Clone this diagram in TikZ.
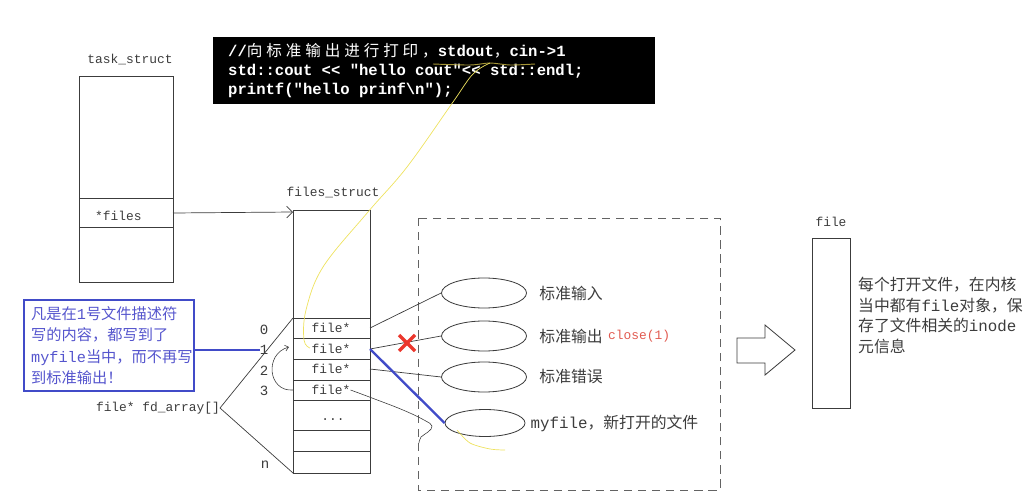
\documentclass[tikz,border=0pt]{standalone}
\usepackage{fontspec}
\setmonofont{Liberation Mono}
\newfontfamily\cjk{Noto Sans CJK SC}
\newfontfamily\cjkwide[LetterSpace=25]{Noto Sans CJK SC}
\usetikzlibrary{arrows.meta,shapes.geometric,positioning}
\tikzset{>=stealth}
\definecolor{ink}{RGB}{60,60,60}
\definecolor{noteblue}{RGB}{65,75,200}
\definecolor{notetext}{RGB}{85,85,205}
\definecolor{hilite}{RGB}{238,226,95}
\definecolor{ulcol}{RGB}{165,150,55}
\definecolor{xred}{RGB}{235,55,45}
\definecolor{closered}{RGB}{225,90,80}
\newcommand{\zh}[1]{{\cjk #1}}
\tikzset{
  lbl/.style={inner sep=0pt, text=ink, font=\ttfamily\fontsize{11}{13}\selectfont},
  idx/.style={inner sep=0pt, text=ink, font=\ttfamily\fontsize{12}{14}\selectfont},
  cn/.style={inner sep=0pt, text=ink, font=\ttfamily\fontsize{13.5}{17}\selectfont},
  fdfile/.style={draw=ink, line width=0.7pt, ellipse, minimum width=2.55cm, minimum height=0.9cm, inner sep=0pt},
  wire/.style={draw=ink, line width=0.6pt},
  bluewire/.style={draw=noteblue, line width=2pt},
}

\begin{document}
\begin{tikzpicture}[x=0.03cm, y=-0.03cm]
\useasboundingbox (0,0) rectangle (1031,504);

% code that prints to fd 1
\node[fill=black, text=white, anchor=north west, minimum width=13.26cm, minimum height=2.01cm,
  text width=12.36cm, inner xsep=0.45cm, align=left,
  font=\ttfamily\bfseries\fontsize{13.3}{16.2}\selectfont] (code) at (213,37)
  {\spaceskip=0.6em\relax
   //{\mdseries\cjkwide 向标准输出进行打印，}stdout{\mdseries\cjkwide ，}cin->1\\
   std::cout << "hello cout"<< std::endl;\\
   printf("hello prinf\textbackslash n");};
\draw[ulcol, line width=0.8pt] plot[smooth] coordinates {(433,64) (470,65) (490,63) (510,65) (535,64)};

% task_struct
\node[lbl] (task) at (130,60) {task\_struct};
\draw[wire] (79,76) rectangle (173,282);
\draw[wire] (79,198) -- (173,198);
\draw[wire] (79,227) -- (173,227);
\node[lbl, anchor=west] (filesfield) at (95,216) {*files};
\coordinate (filesptr) at (173,213);

% files_struct
\node[lbl] (fs) at (333,193) {files\_struct};
\draw[wire] (293,210) rectangle (370,473);
\foreach \y in {318,338,359,380,400,430,451}
\draw[wire] (293,\y) -- (370,\y);
\coordinate (fstop) at (293,212);
\coordinate (fsrow0) at (293,318);
\coordinate (fsbot) at (293,473);
\foreach \i/\y in {0/328,1/349,2/369,3/390}{
\node[lbl] (row\i) at (331,\y) {file*};
\coordinate (p\i) at (370,\y);
\coordinate (q\i) at (293,\y);
}
\node[lbl] (dots) at (333,420) {...};
\foreach \i/\y in {0/330,1/350,2/371,3/391}
\node[idx] (i\i) at (264,\y) {\i};
\node[idx] (ilast) at (265,465) {n};
\node[lbl, anchor=east] (fdarr) at (220,408) {file* fd\_array[]};
\draw[wire] (fsrow0) -- (fdarr.east) -- (fsbot);
\draw[wire, -{Straight Barb[length=5pt, width=10pt]}] (filesptr) -- (fstop);
\draw[wire, line width=0.5pt, -{Straight Barb[length=3pt, width=5pt]}] (q3) .. controls (268,392) and (264,354) .. (289,347);

% opened files
\draw[ink!80, line width=0.7pt, dash pattern=on 7pt off 5pt] (418,218) rectangle (720,490);
\node[fdfile] (stdin) at (484,293) {};
\node[fdfile] (stdout) at (484,336) {};
\node[fdfile] (stderr) at (484,377) {};
\node[fdfile, minimum width=2.4cm, minimum height=0.81cm] (myfile) at (485,423) {};
\node[cn, right=0.37cm of stdin] (stdinlbl) {\zh{标准输入}};
\node[cn, right=0.37cm of stdout] (stdoutlbl) {\zh{标准输出}};
\node[lbl, text=closered, right=0.15cm of stdoutlbl] (closelbl) {close(1)};
\node[cn, right=0.37cm of stderr] (stderrlbl) {\zh{标准错误}};
\node[cn, right=0.15cm of myfile] (myfilelbl) {myfile\zh{，新打开的文件}};

\draw[wire] (p0) -- (stdin.west);
\draw[wire] (p1) -- (stdout.west);
\draw[wire] (p2) -- (stderr.west);
\draw[wire, line width=0.5pt] plot[smooth, tension=0.7] coordinates {(row3.east) (372,398) (403,410) (424,420) (432,426) (428,432) (421,437) (419,443)};
\draw[bluewire] (p1) -- (myfile.west);
\draw[xred, line width=3pt] (399,335) -- (415,351);
\draw[xred, line width=3pt] (399,351) -- (415,335);

% yellow marker strokes
\draw[hilite, line width=0.6pt] plot[smooth, tension=0.6] coordinates {(490,63) (473,74) (453,102) (407,167) (368,212) (323,267) (306,310) (304,340) (310,348)};
\draw[hilite, line width=0.6pt] plot[smooth] coordinates {(457,430) (470,443) (490,449) (505,450)};

% note on fd 1
\node[draw=noteblue, line width=2pt, text=notetext, anchor=north west, minimum width=5.1cm, minimum height=2.73cm,
  text width=4.68cm, inner xsep=0.21cm, align=left, font=\ttfamily\fontsize{13}{18}\selectfont] (note) at (23,299)
  {\zh{凡是在}1\zh{号文件描述符}\\ \zh{写的内容，都写到了}\\ myfile\zh{当中，而不再写}\\ \zh{到标准输出！}};
\draw[bluewire] (note.east |- i1) -- (i1.west);

% file object
\draw[ink, line width=0.7pt] (737,338) -- (765,338) -- (765,325) -- (795,350) -- (765,375) -- (765,363) -- (737,363) -- cycle;
\node[draw=ink, line width=0.7pt, minimum width=1.14cm, minimum height=5.1cm, inner sep=0pt] (filebox) at (831,323) {};
\node[lbl, above=0.33cm of filebox] (filelbl) {file};
\node[cn, anchor=north west, align=left, font=\ttfamily\fontsize{13.5}{17.5}\selectfont] (info) at (858,277)
  {\zh{每个打开文件，在内核}\\ \zh{当中都有}file\zh{对象，保}\\ \zh{存了文件相关的}inode\\ \zh{元信息}};
\end{tikzpicture}
\end{document}
